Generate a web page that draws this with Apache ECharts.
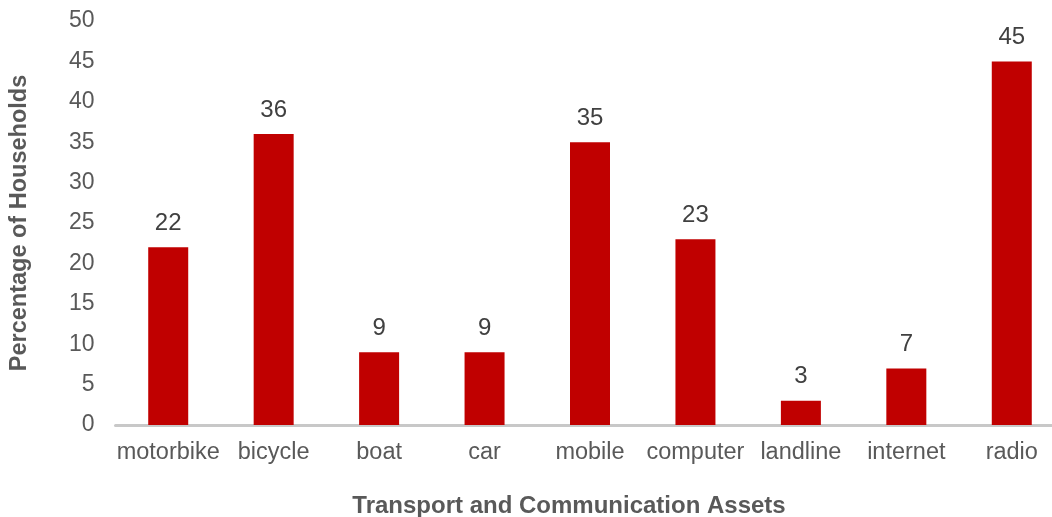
<!DOCTYPE html>
<html>
<head>
<meta charset="utf-8">
<script src="https://cdn.jsdelivr.net/npm/echarts@6/dist/echarts.min.js"></script>
<style>html,body{margin:0;padding:0;background:#fff}#chart{width:1052px;height:517px}</style>
</head>
<body>
<div id="chart"></div>
<script>
const categories = ["motorbike", "bicycle", "boat", "car", "mobile", "computer", "landline", "internet", "radio"];
const values = [22, 36, 9, 9, 35, 23, 3, 7, 45];
const yTicks = { min: 0, max: 50, interval: 5 };
const xTitle = "Transport and Communication Assets";
const yTitle = "Percentage of Households";

const chart = echarts.init(document.getElementById('chart'), null, { renderer: 'canvas' });
const font = "'Liberation Sans', Arial, sans-serif";
chart.setOption({
  animation: false,
  backgroundColor: '#ffffff',
  title: {
    text: xTitle,
    left: 564,
    top: 489,
    textAlign: 'center',
    textStyle: { fontFamily: font, fontSize: 24, fontWeight: 'bold', color: '#595959' }
  },
  grid: { left: 115.5, width: 949, top: 21, bottom: 92, containLabel: false, outerBoundsMode: 'none' },
  xAxis: {
    type: 'category',
    data: categories,
    axisLine: { show: true, lineStyle: { color: '#c8c8c8', width: 3 } },
    axisTick: { show: false },
    axisLabel: { margin: 16, fontFamily: font, fontSize: 23.5, color: '#595959', interval: 0 },
    splitLine: { show: false }
  },
  yAxis: {
    type: 'value',
    min: yTicks.min, max: yTicks.max, interval: yTicks.interval,
    name: yTitle,
    nameLocation: 'middle',
    nameGap: 84,
    nameRotate: 90,
    nameTextStyle: { fontFamily: font, fontSize: 23.5, fontWeight: 'bold', color: '#595959' },
    axisLine: { show: false },
    axisTick: { show: false },
    splitLine: { show: false },
    axisLabel: { margin: 21, fontFamily: font, fontSize: 23, color: '#595959' }
  },
  series: [{
    type: 'bar',
    data: values,
    barWidth: 40,
    itemStyle: { color: '#c00000' },
    label: { show: true, position: 'top', distance: 12, fontFamily: font, fontSize: 24, color: '#404040' }
  }]
});
</script>
</body>
</html>
